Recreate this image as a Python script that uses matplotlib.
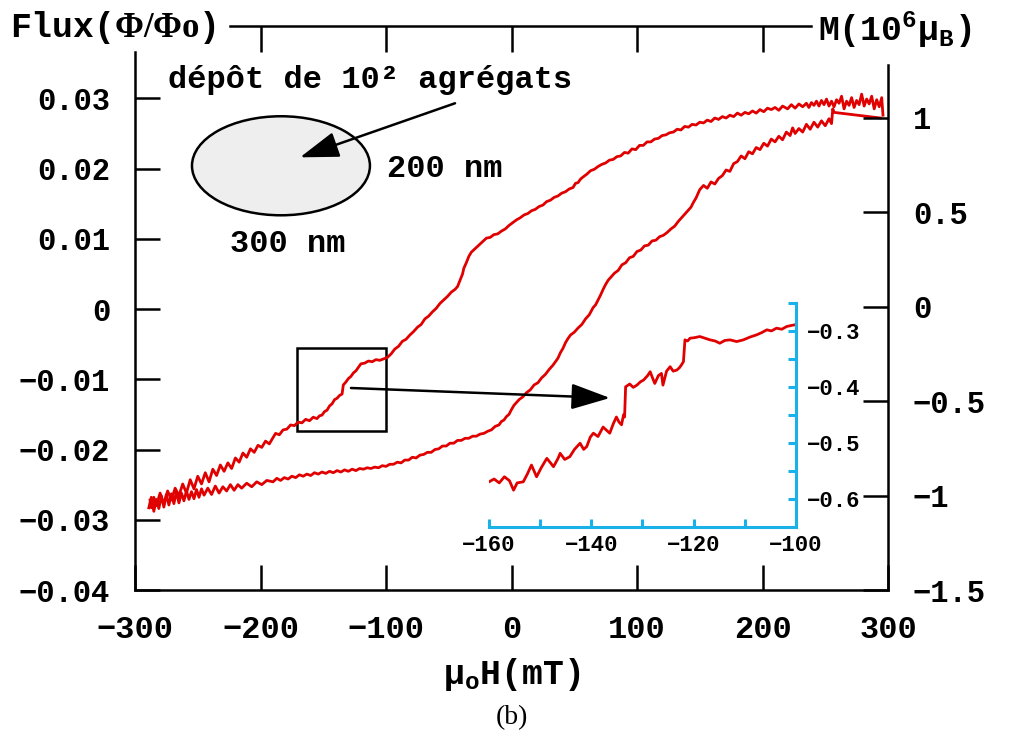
import numpy as np
import matplotlib
matplotlib.use('Agg')
import matplotlib.pyplot as plt
from matplotlib.patches import Ellipse, Rectangle

plt.rcParams['font.family'] = ['Liberation Mono', 'DejaVu Sans']
plt.rcParams['font.weight'] = 'bold'
plt.rcParams['mathtext.fontset'] = 'custom'
plt.rcParams['mathtext.rm'] = 'Liberation Serif'
plt.rcParams['mathtext.bf'] = 'Liberation Mono:bold'
plt.rcParams['mathtext.it'] = 'Liberation Mono:bold'
plt.rcParams['mathtext.default'] = 'bf'

# descending branch (+300 -> -300), field in mT, flux in Phi/Phi0
desc = [
    (296, 0.0276), (295, 0.0301), (293, 0.0288), (291, 0.0298), (289, 0.0285),
    (287, 0.0303), (285, 0.0292), (283, 0.0299), (281, 0.0289), (279, 0.0306),
    (277, 0.0291), (275, 0.0297), (273, 0.0287), (271, 0.0301), (269, 0.0290),
    (267, 0.0296), (265, 0.0285), (263, 0.0303), (261, 0.0293), (259, 0.0298),
    (257, 0.0288), (255, 0.0296), (253, 0.0289), (251, 0.0299), (249, 0.0291),
    (247, 0.0297), (245, 0.0289), (243, 0.0296), (241, 0.0290), (239, 0.0294),
    (237, 0.0287), (235, 0.0293), (232, 0.0288), (229, 0.0292), (226, 0.0286),
    (223, 0.0291), (220, 0.0285), (216, 0.0289), (213, 0.0283), (210, 0.0287),
    (207, 0.0284), (204, 0.0286), (201, 0.0281), (198, 0.0284), (195, 0.0279),
    (192, 0.0282), (189, 0.0278), (186, 0.0280), (183, 0.0276), (180, 0.0279),
    (177, 0.0274), (174, 0.0276), (171, 0.0272), (168, 0.0274), (165, 0.0270),
    (162, 0.0272), (159, 0.0267), (156, 0.0269), (153, 0.0265), (150, 0.0266),
    (147, 0.0262), (144, 0.0263), (141, 0.0259), (138, 0.0260), (135, 0.0255),
    (132, 0.0256), (129, 0.0252), (126, 0.0251), (123, 0.0248), (120, 0.0247),
    (117, 0.0243), (114, 0.0242), (111, 0.0238), (108, 0.0238), (105, 0.0233),
    (102, 0.0233), (99, 0.0227), (96, 0.0228), (93, 0.0222), (90, 0.0223),
    (87, 0.0218), (84, 0.0217), (81, 0.0213), (78, 0.0212), (75, 0.0208),
    (72, 0.0206), (69, 0.0203), (66, 0.0199), (63, 0.0197), (60, 0.0192),
    (57, 0.0188), (55, 0.0185), (53, 0.0180), (51, 0.0179), (49, 0.0173),
    (46, 0.0171), (43, 0.0167), (40, 0.0165), (37, 0.0161), (34, 0.0159),
    (31, 0.0155), (28, 0.0153), (25, 0.0148), (22, 0.0146), (19, 0.0142),
    (16, 0.0140), (13, 0.0136), (10, 0.0134), (7, 0.0130), (4, 0.0127),
    (1, 0.0123), (-2, 0.0119), (-5, 0.0114), (-8, 0.0111), (-11, 0.0107),
    (-14, 0.0106), (-17, 0.0102), (-20, 0.0101), (-23, 0.0096), (-26, 0.0091),
    (-29, 0.0086), (-32, 0.0081), (-34, 0.0075), (-36, 0.0066), (-38, 0.0058),
    (-39, 0.0050), (-41, 0.0041), (-43, 0.0032), (-45, 0.0028), (-48, 0.0024),
    (-51, 0.0018), (-54, 0.0013), (-57, 0.0008), (-60, 0.0001), (-63, -0.0004),
    (-66, -0.0010), (-69, -0.0014), (-72, -0.0022), (-75, -0.0026), (-78, -0.0032),
    (-81, -0.0037), (-84, -0.0043), (-87, -0.0046), (-90, -0.0053), (-93, -0.0057),
    (-96, -0.0064), (-99, -0.0069), (-102, -0.0071), (-105, -0.0073), (-108, -0.0072),
    (-111, -0.0075), (-114, -0.0074), (-117, -0.0077), (-120, -0.0078), (-122, -0.0083),
    (-124, -0.0088), (-126, -0.0091), (-128, -0.0096), (-130, -0.0099), (-132, -0.0104),
    (-134, -0.0108), (-135, -0.0121), (-137, -0.0123), (-139, -0.0127), (-141, -0.0129),
    (-143, -0.0135), (-145, -0.0138), (-147, -0.0144), (-149, -0.0146), (-151, -0.0151),
    (-153, -0.0152), (-155, -0.0156), (-158, -0.0154), (-161, -0.0159), (-164, -0.0157),
    (-167, -0.0162), (-170, -0.0161), (-173, -0.0166), (-176, -0.0165), (-179, -0.0171),
    (-182, -0.0172), (-185, -0.0179), (-188, -0.0177), (-190, -0.0183), (-193, -0.0192),
    (-196, -0.0188), (-199, -0.0197), (-202, -0.0194), (-205, -0.0204), (-208, -0.0199),
    (-211, -0.0211), (-214, -0.0205), (-217, -0.0218), (-220, -0.0212), (-223, -0.0227),
    (-226, -0.0219), (-229, -0.0231), (-232, -0.0222), (-235, -0.0237), (-238, -0.0228),
    (-241, -0.0246), (-244, -0.0233), (-247, -0.0249), (-250, -0.0238), (-253, -0.0256),
    (-256, -0.0243), (-259, -0.0262), (-262, -0.0249), (-265, -0.0266), (-268, -0.0255),
    (-271, -0.0272), (-274, -0.0259), (-277, -0.0278), (-280, -0.0262), (-283, -0.0280),
    (-285, -0.0268), (-287, -0.0283), (-288, -0.0272),
]

# ascending branch (-300 -> +300)
asc = [
    (-289, -0.0283), (-287, -0.0268), (-285, -0.0288), (-283, -0.0271), (-281, -0.0284),
    (-279, -0.0266), (-277, -0.0282), (-275, -0.0264), (-273, -0.0279), (-271, -0.0263),
    (-269, -0.0277), (-267, -0.0260), (-265, -0.0276), (-263, -0.0262), (-261, -0.0273),
    (-259, -0.0259), (-257, -0.0271), (-255, -0.0260), (-253, -0.0270), (-251, -0.0257),
    (-249, -0.0268), (-247, -0.0256), (-245, -0.0265), (-242, -0.0255), (-239, -0.0264),
    (-236, -0.0252), (-233, -0.0262), (-230, -0.0253), (-227, -0.0259), (-224, -0.0250),
    (-221, -0.0258), (-218, -0.0250), (-215, -0.0255), (-211, -0.0248), (-207, -0.0253),
    (-203, -0.0246), (-199, -0.0250), (-195, -0.0244), (-190, -0.0246), (-187, -0.0241),
    (-184, -0.0244), (-181, -0.0240), (-178, -0.0242), (-175, -0.0238), (-172, -0.0240),
    (-169, -0.0236), (-166, -0.0238), (-163, -0.0235), (-160, -0.0237), (-157, -0.0233),
    (-154, -0.0235), (-151, -0.0232), (-148, -0.0234), (-145, -0.0231), (-142, -0.0233),
    (-139, -0.0230), (-136, -0.0232), (-133, -0.0229), (-130, -0.0231), (-127, -0.0228),
    (-124, -0.0230), (-121, -0.0227), (-118, -0.0228), (-115, -0.0226), (-112, -0.0227),
    (-109, -0.0225), (-106, -0.0226), (-103, -0.0223), (-100, -0.0224), (-97, -0.0221),
    (-94, -0.0221), (-91, -0.0218), (-88, -0.0219), (-85, -0.0215), (-82, -0.0215),
    (-79, -0.0211), (-76, -0.0212), (-73, -0.0208), (-70, -0.0207), (-67, -0.0204),
    (-64, -0.0204), (-61, -0.0200), (-58, -0.0199), (-55, -0.0195), (-52, -0.0195),
    (-49, -0.0191), (-46, -0.0191), (-43, -0.0187), (-40, -0.0187), (-37, -0.0184),
    (-34, -0.0184), (-31, -0.0181), (-28, -0.0181), (-25, -0.0178), (-22, -0.0177),
    (-19, -0.0174), (-16, -0.0172), (-13, -0.0167), (-10, -0.0165), (-8, -0.0160),
    (-6, -0.0158), (-4, -0.0153), (-2, -0.0150), (0, -0.0143), (2, -0.0137),
    (4, -0.0133), (6, -0.0129), (9, -0.0125), (12, -0.0119), (15, -0.0115),
    (18, -0.0108), (21, -0.0105), (24, -0.0098), (27, -0.0093), (30, -0.0086),
    (33, -0.0080), (35, -0.0075), (37, -0.0070), (39, -0.0062), (41, -0.0056),
    (43, -0.0048), (45, -0.0042), (47, -0.0037), (50, -0.0033), (53, -0.0027),
    (56, -0.0022), (59, -0.0014), (62, -0.0008), (65, 0.0002), (67, 0.0006),
    (69, 0.0013), (71, 0.0020), (73, 0.0028), (75, 0.0035), (77, 0.0041),
    (79, 0.0045), (82, 0.0051), (85, 0.0055), (88, 0.0063), (91, 0.0066),
    (94, 0.0073), (97, 0.0075), (100, 0.0082), (103, 0.0084), (106, 0.0090),
    (109, 0.0091), (112, 0.0097), (115, 0.0098), (118, 0.0103), (121, 0.0105),
    (124, 0.0109), (127, 0.0114), (130, 0.0118), (133, 0.0125), (136, 0.0131),
    (139, 0.0137), (141, 0.0141), (143, 0.0145), (145, 0.0152), (147, 0.0158),
    (150, 0.0170), (153, 0.0176), (156, 0.0172), (159, 0.0181), (162, 0.0178),
    (165, 0.0186), (168, 0.0190), (171, 0.0198), (174, 0.0196), (177, 0.0207),
    (180, 0.0210), (183, 0.0218), (186, 0.0214), (189, 0.0224), (192, 0.0221),
    (195, 0.0230), (198, 0.0227), (201, 0.0236), (204, 0.0232), (207, 0.0242),
    (210, 0.0238), (213, 0.0246), (216, 0.0241), (219, 0.0252), (222, 0.0247),
    (224, 0.0258), (226, 0.0250), (229, 0.0257), (232, 0.0252), (235, 0.0263),
    (238, 0.0256), (241, 0.0266), (244, 0.0259), (247, 0.0268), (250, 0.0261),
    (253, 0.0271), (255, 0.0264), (256, 0.0285), (257, 0.0280), (294, 0.0272),
]

# zoomed detail (inset), field in mT, moment in 10^6 muB
inset_h = [-160, -159, -158, -157, -156, -155.2, -154.5, -153.3, -152.5, -151.7,
           -150.7, -149.8, -148.7, -147.9, -147.4, -146.5, -146.1, -145.2, -144.2, -143.3,
           -142.2, -141.5, -140.9, -140.2, -139.6, -138.7, -137.7, -137.0, -136.4, -135.7,
           -135.1, -134.6, -134.1, -133.7, -133.5, -133.3, -132.5, -131.8, -131.1, -130.4,
           -129.8, -129.0, -128.5, -128.0, -127.6, -126.9, -126.3, -126.0, -125.3, -124.6,
           -124.0, -123.3, -122.8, -122.4, -122.0, -121.7, -121.2, -120.7, -119.8, -118.8,
           -117.8, -116.8, -115.8, -114.9, -113.9, -112.9, -111.6, -110.3, -109.0, -107.7,
           -106.7, -105.7, -104.8, -103.8, -102.8, -101.8, -100.8, -100.2]
inset_m = [-0.570, -0.565, -0.572, -0.561, -0.568, -0.585, -0.572, -0.570, -0.556, -0.540,
           -0.561, -0.545, -0.528, -0.537, -0.543, -0.528, -0.519, -0.530, -0.525, -0.512,
           -0.501, -0.512, -0.507, -0.490, -0.483, -0.489, -0.472, -0.478, -0.483, -0.466,
           -0.454, -0.463, -0.468, -0.450, -0.454, -0.400, -0.395, -0.401, -0.397, -0.391,
           -0.388, -0.380, -0.373, -0.385, -0.394, -0.380, -0.376, -0.397, -0.372, -0.364,
           -0.372, -0.370, -0.366, -0.361, -0.355, -0.316, -0.318, -0.313, -0.312, -0.310,
           -0.313, -0.316, -0.318, -0.322, -0.317, -0.316, -0.319, -0.316, -0.311, -0.307,
           -0.303, -0.298, -0.300, -0.295, -0.297, -0.292, -0.290, -0.289]

h_ticks = [-300, -200, -100, 0, 100, 200, 300]
h_labels = ['\u2212300', '\u2212200', '\u2212100', '0', '100', '200', '300']
top_ticks = [-200, -100, 0, 100, 200]
flux_ticks = [-0.04, -0.03, -0.02, -0.01, 0, 0.01, 0.02, 0.03]
flux_labels = ['\u22120.04', '\u22120.03', '\u22120.02', '\u22120.01', '0', '0.01', '0.02', '0.03']
m_ticks = [-1.5, -1, -0.5, 0, 0.5, 1]
m_labels = ['\u22121.5', '\u22121', '\u22120.5', '0', '0.5', '1']
inset_h_ticks = [-160, -140, -120, -100]
inset_h_labels = ['\u2212160', '\u2212140', '\u2212120', '\u2212100']
inset_m_ticks = [-0.6, -0.5, -0.4, -0.3]
inset_m_labels = ['\u22120.6', '\u22120.5', '\u22120.4', '\u22120.3']

RED = '#e00000'
CYAN = '#1ab0e8'
W, H = 1016, 734

fig = plt.figure(figsize=(W / 100, H / 100), dpi=100)
ax = fig.add_axes([135 / W, 1 - 590 / H, 753 / W, 564 / H])
ax.set_xlim(-300, 300)
ax.set_ylim(-0.04, 0.0403)

desc_arr = np.array(desc).T
asc_arr = np.array(asc).T
ax.plot(asc_arr[0], asc_arr[1], color=RED, lw=2.0)
ax.plot(desc_arr[0], desc_arr[1], color=RED, lw=2.0)

for side in ['top', 'right']:
    ax.spines[side].set_visible(False)
for side in ['left', 'bottom']:
    ax.spines[side].set_linewidth(1.8)
ax.spines['left'].set_bounds(-0.04, 0.0366)

ax.set_xticks(h_ticks)
ax.set_xticklabels(h_labels)
ax.set_yticks(flux_ticks)
ax.set_yticklabels(flux_labels)
ax.tick_params(axis='x', direction='in', length=18, width=1.8, pad=18, labelsize=23)
ax.tick_params(axis='y', direction='in', length=18, width=1.8, pad=18, labelsize=22)
ax.set_xlabel(r'μ$_{o}$H(mT)', fontsize=25, fontweight='bold', labelpad=8)

top = ax.secondary_xaxis('top')
top.set_xticks(top_ticks)
top.tick_params(direction='in', length=19, width=1.8, labeltop=False)
top.spines['top'].set_linewidth(1.8)
top.spines['top'].set_bounds(-224, 239)

ax2 = ax.twinx()
ax2.set_ylim(-1.5, 1.487)
for side in ['top', 'left', 'bottom']:
    ax2.spines[side].set_visible(False)
ax2.spines['right'].set_linewidth(1.8)
ax2.spines['right'].set_bounds(-1.5, 1.28)
ax2.set_yticks(m_ticks)
ax2.set_yticklabels(m_labels)
ax2.tick_params(axis='y', direction='in', length=18, width=1.8, pad=18, labelsize=22)

# sample sketch
ax.add_patch(Ellipse((-183.7, 0.0204), 141.8, 0.0141, facecolor='#eeeeee',
                     edgecolor='black', lw=1.8))
ax.text(-273.7, 0.0326, 'dépôt de 10² agrégats', fontsize=23, va='center', ha='left')
ax.text(-99, 0.0199, '200 nm', fontsize=23, va='center', ha='left')
ax.text(-224, 0.0092, '300 nm', fontsize=23, va='center', ha='left')
ax.annotate('', xy=(-168.5, 0.0216), xytext=(-45, 0.0293),
            arrowprops=dict(arrowstyle='-|>,head_length=1.2,head_width=0.4',
                            mutation_scale=20, lw=1.8, color='black',
                            shrinkA=0, shrinkB=0))

# zoom box and arrow to inset
ax.add_patch(Rectangle((-171, -0.01735), 70.8, 0.01175, fill=False,
                       edgecolor='black', lw=1.8))
ax.annotate('', xy=(78.5, -0.01266), xytext=(-127.9, -0.01124),
            arrowprops=dict(arrowstyle='-|>,head_length=1.2,head_width=0.4',
                            mutation_scale=20, lw=1.8, color='black',
                            shrinkA=0, shrinkB=0))

fig.text(10 / W, 1 - 27 / H, r'Flux($\mathrm{\Phi/\Phi o}$)', fontsize=25,
         ha='left', va='center')
fig.text(818 / W, 1 - 30 / H, r'M(10$^{6}$μ$_{B}$)', fontsize=25,
         ha='left', va='center')
fig.text(512 / W, 1 - 718 / H, '(b)', family='Liberation Serif', fontweight='normal',
         fontsize=20, ha='center', va='center')

# inset
axin = fig.add_axes([489 / W, 1 - 526.5 / H, 307 / W, 223.5 / H])
axin.patch.set_alpha(0)
axin.plot(inset_h, inset_m, color=RED, lw=2.0)
axin.set_xlim(-160, -100)
axin.set_ylim(-0.65, -0.25)
for side in ['top', 'left']:
    axin.spines[side].set_visible(False)
for side in ['bottom', 'right']:
    axin.spines[side].set_color(CYAN)
    axin.spines[side].set_linewidth(2.2)
axin.yaxis.tick_right()
axin.set_xticks(inset_h_ticks)
axin.set_xticklabels(inset_h_labels)
axin.set_xticks([-150, -130, -110], minor=True)
axin.set_yticks(inset_m_ticks)
axin.set_yticklabels(inset_m_labels)
axin.set_yticks([-0.55, -0.45, -0.35, -0.25], minor=True)
axin.tick_params(which='both', direction='in', color=CYAN, width=2.2, length=6)
axin.tick_params(axis='x', pad=6, labelsize=16)
axin.tick_params(axis='y', pad=8, labelsize=16)

fig.savefig('out.png', dpi=100)
